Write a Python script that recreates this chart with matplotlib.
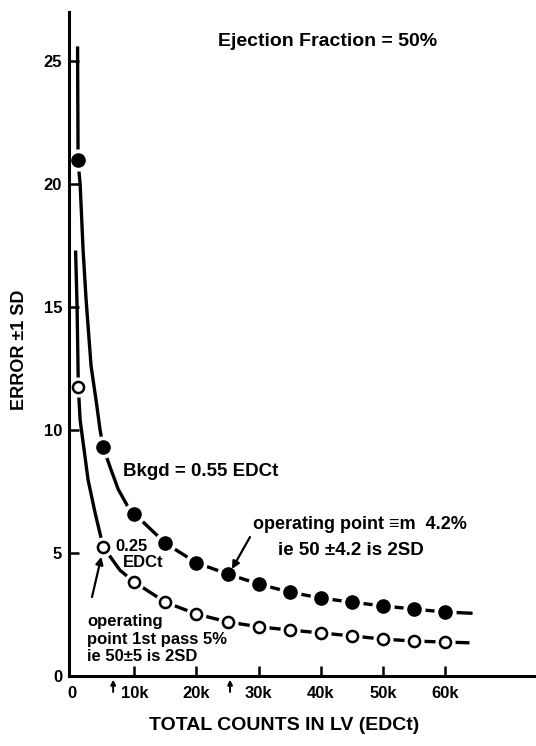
import matplotlib
matplotlib.use("Agg")
import matplotlib.pyplot as plt

plt.rcParams['font.family'] = ['Liberation Sans', 'DejaVu Sans']
plt.rcParams['font.weight'] = 'bold'

# counts in LV (thousands) at the plotted points
counts_k = [1, 5, 10, 15, 20, 25, 30, 35, 40, 45, 50, 55, 60]
# error (+/-1 SD), background 0.55 EDCt (filled) and 0.25 EDCt (open)
err_bkgd55 = [21.0, 9.3, 6.6, 5.4, 4.6, 4.15, 3.74, 3.41, 3.17, 3.0, 2.85, 2.72, 2.6]
err_bkgd25 = [11.75, 5.25, 3.82, 3.0, 2.52, 2.2, 2.0, 1.87, 1.75, 1.63, 1.5, 1.42, 1.38]

# hand drawn curves
curve55_k = [0.88, 0.96, 1.29, 1.77, 2.25, 3.05, 3.86, 4.5, 5, 6.1, 7.4, 9.0, 10,
             15, 20, 25, 30, 35, 40, 45, 50, 55, 60, 64.4]
curve55_v = [25.6, 20.9, 20.0, 17.3, 15.3, 12.6, 11.2, 10.0, 9.3, 8.5, 7.6, 6.87, 6.6,
             5.4, 4.6, 4.15, 3.74, 3.41, 3.17, 3.0, 2.85, 2.72, 2.6, 2.55]
curve25_k = [0.56, 0.8, 1.0, 1.29, 1.93, 2.57, 3.7, 5, 7.7, 10,
             15, 20, 25, 30, 35, 40, 45, 50, 55, 60, 63.9]
curve25_v = [17.3, 15.0, 11.75, 10.4, 9.19, 7.97, 6.63, 5.25, 4.3, 3.82,
             3.0, 2.52, 2.2, 2.0, 1.87, 1.75, 1.63, 1.5, 1.42, 1.38, 1.35]

xticks_k = [0, 10, 20, 30, 40, 50, 60]
xtick_labels = ['0', '10k', '20k', '30k', '40k', '50k', '60k']
yticks = [0, 5, 10, 15, 20, 25]

fig = plt.figure(figsize=(5.36, 7.46), dpi=100)
ax = fig.add_axes([69 / 536, 70 / 746, 1 - 69 / 536, 664 / 746])
ax.set_xlim(-0.5, 74.6)
ax.set_ylim(0, 27)

# curves
ax.plot(curve55_k, curve55_v, color='k', lw=2.4, zorder=2, solid_capstyle='butt')
ax.plot(curve25_k, curve25_v, color='k', lw=2.4, zorder=2, solid_capstyle='butt')

# white rings to break the line around each marker
ax.plot(counts_k, err_bkgd55, 'o', ms=15, color='white', mec='white', zorder=2.2)
ax.plot(counts_k, err_bkgd25, 'o', ms=13.5, color='white', mec='white', zorder=2.2)
ax.plot(counts_k, err_bkgd55, 'o', ms=9.5, color='k', mec='k', zorder=3)
ax.plot(counts_k, err_bkgd25, 'o', ms=8, mfc='white', mec='k', mew=1.8, zorder=3)

# axes styling
for s in ['top', 'right']:
    ax.spines[s].set_visible(False)
for s in ['left', 'bottom']:
    ax.spines[s].set_linewidth(2.2)
    ax.spines[s].set_zorder(2.5)
ax.set_xticks(xticks_k)
ax.set_xticklabels(xtick_labels)
ax.set_yticks(yticks)
ax.tick_params(direction='in', length=7, width=1.8, labelsize=12)
ax.tick_params(axis='x', pad=7)
ax.tick_params(axis='y', pad=5)
ax.xaxis.get_major_ticks()[0].tick1line.set_visible(False)
ax.yaxis.get_major_ticks()[0].tick1line.set_visible(False)

# texts
ax.text(41.0, 25.8, 'Ejection Fraction = 50%', fontsize=14, ha='center', va='center')
ax.text(8.2, 8.33, 'Bkgd = 0.55 EDCt', fontsize=13.5, ha='left', va='center')
ax.text(6.9, 5.28, '0.25', fontsize=12, ha='left', va='center')
ax.text(8.2, 4.63, 'EDCt', fontsize=12, ha='left', va='center')
ax.text(29.1, 6.18, 'operating point \u2261m  4.2%', fontsize=13, ha='left', va='center')
ax.text(33.1, 5.12, 'ie 50 \u00b14.2 is 2SD', fontsize=13.5, ha='left', va='center')
ax.text(2.4, 1.5, 'operating\npoint 1st pass 5%\nie 50\u00b15 is 2SD', fontsize=12,
        ha='left', va='center', linespacing=1.2)

arrow = dict(arrowstyle='-|>', lw=1.6, color='k', mutation_scale=11, shrinkA=0, shrinkB=0)
ax.annotate('', xy=(25.7, 4.35), xytext=(28.6, 5.65), arrowprops=arrow)
ax.annotate('', xy=(4.7, 4.85), xytext=(3.2, 3.21), arrowprops=arrow)
small = dict(arrowstyle='-|>', lw=1.4, color='k', mutation_scale=7, shrinkA=0, shrinkB=0)
ax.annotate('', xy=(6.6, -0.15), xytext=(6.6, -0.65), arrowprops=small, annotation_clip=False)
ax.annotate('', xy=(25.4, -0.15), xytext=(25.4, -0.65), arrowprops=small, annotation_clip=False)

fig.text(284 / 536, 1 - 726 / 746, 'TOTAL COUNTS IN LV (EDCt)', fontsize=14,
         ha='center', va='center')
fig.text(20 / 536, 1 - 350 / 746, 'ERROR \u00b11 SD', fontsize=13, rotation=90,
         ha='center', va='center')

fig.savefig('out.png', dpi=100)
